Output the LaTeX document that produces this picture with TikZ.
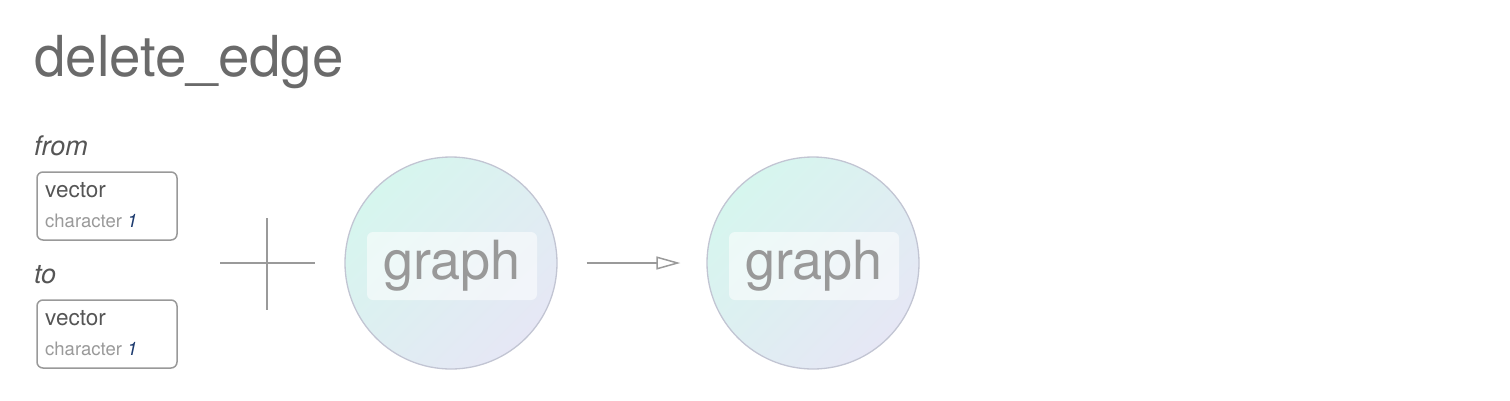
\documentclass[tikz,border=0pt]{standalone}
\usepackage{fontspec}
\setmainfont{TeX Gyre Heros}
\usetikzlibrary{arrows.meta}
\definecolor{titlegray}{HTML}{6A6A6A}
\definecolor{labgray}{HTML}{555555}
\definecolor{boxgray}{HTML}{999999}
\definecolor{subgray}{HTML}{9A9A9A}
\definecolor{numblue}{HTML}{1C3A6E}
\definecolor{mint}{HTML}{D6F6EE}
\definecolor{lav}{HTML}{E6E7F5}
\definecolor{circborder}{HTML}{C2C5D3}
\definecolor{graphgray}{HTML}{999999}
\definecolor{linegray}{HTML}{9A9A9A}
\tikzset{
  argbox/.style={draw=boxgray, line width=1.5pt, rounded corners=6pt, fill=white,
    minimum width=140pt, minimum height=68pt, inner sep=0pt},
  arglabel/.style={anchor=base west, inner sep=0pt, text=labgray,
    font=\fontsize{27}{30}\selectfont\itshape},
  typetext/.style={anchor=base west, inner sep=0pt, text=labgray,
    font=\fontsize{22.5}{26}\selectfont},
  subtext/.style={anchor=base west, inner sep=0pt, text=subgray,
    font=\fontsize{18.5}{22}\selectfont},
  graphcirc/.style={circle, draw=circborder, line width=1.3pt, minimum size=212pt,
    inner sep=0pt, top color=mint, bottom color=lav, shading angle=45},
  graphlabel/.style={fill=white, fill opacity=0.55, text opacity=1, rounded corners=6pt,
    minimum width=170pt, minimum height=68pt, inner sep=0pt, text=graphgray,
    font=\fontsize{54}{60}\selectfont},
  plusline/.style={draw=linegray, line width=1.5pt},
  flow/.style={draw=linegray, line width=1.5pt, -{Triangle[open, length=24pt, width=13pt, line width=1.5pt]}}
}
\begin{document}
\begin{tikzpicture}[x=1pt,y=-1pt]
\useasboundingbox (0,0) rectangle (1510,400);
\node[anchor=base west, inner sep=0pt, text=titlegray, font=\fontsize{56.5}{60}\selectfont] (title) at (34,76) {delete\_edge};

\node[arglabel] (fromlab) at (34,155) {from};
\node[argbox] (frombox) at (107,206) {};
\node[typetext] (fromtype) at (45,197) {vector};
\node[subtext] (fromsub) at (45,227) {character \textcolor{numblue}{\itshape 1}};

\node[arglabel] (tolab) at (34,283) {to};
\node[argbox] (tobox) at (107,334) {};
\node[typetext] (totype) at (45,325) {vector};
\node[subtext] (tosub) at (45,355) {character \textcolor{numblue}{\itshape 1}};

\coordinate (pl) at (220,263);
\coordinate (pr) at (315,263);
\coordinate (pt) at (267,218);
\coordinate (pb) at (267,310);
\draw[plusline] (pl) -- (pr);
\draw[plusline] (pt) -- (pb);

\node[graphcirc] (g1) at (451,263) {};
\node[graphlabel] (g1lab) at (452,266) {graph};

\node[graphcirc] (g2) at (813,263) {};
\node[graphlabel] (g2lab) at (814,266) {graph};

\draw[flow, shorten <=29pt, shorten >=26pt] (g1.east) -- (g2.west);
\end{tikzpicture}
\end{document}
